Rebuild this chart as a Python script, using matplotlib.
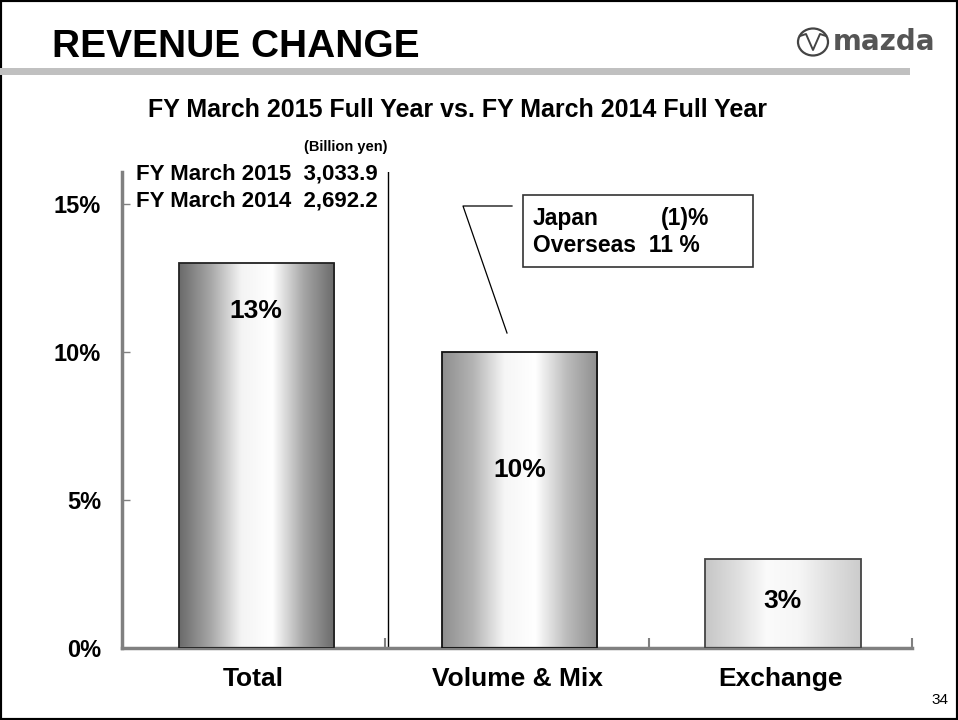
import matplotlib
matplotlib.use("Agg")
import matplotlib.pyplot as plt
import numpy as np
from matplotlib.colors import LinearSegmentedColormap
from matplotlib.patches import Rectangle, Ellipse
from matplotlib.lines import Line2D

plt.rcParams['font.family'] = ['Liberation Sans', 'DejaVu Sans']

# ---- data ----
categories = ["Total", "Volume & Mix", "Exchange"]
values = [13, 10, 3]
bar_labels = ["13%", "10%", "3%"]
yticks = [0, 5, 10, 15]
ytick_labels = ["0%", "5%", "10%", "15%"]
revenue_lines = ["FY March 2015  3,033.9", "FY March 2014  2,692.2"]
unit_text = "(Billion yen)"
callout_japan = ["Japan", "(1)%"]
callout_overseas = "Overseas  11 %"

W, H = 958, 720
fig = plt.figure(figsize=(W / 100, H / 100), dpi=100)


def fx(px):
    return px / W


def fy(py):
    return 1 - py / H


# page frame
fig.patches.append(Rectangle((0, 0), 1, 1, transform=fig.transFigure,
                             fill=False, edgecolor="black", linewidth=3))
# title underline
fig.patches.append(Rectangle((0, fy(75)), fx(910), 7 / H, transform=fig.transFigure,
                             facecolor="#c0c0c0", edgecolor="none"))
fig.text(fx(52), fy(47), "REVENUE CHANGE", fontsize=28, fontweight="bold",
         va="center", ha="left")
fig.text(fx(458), fy(110), "FY March 2015 Full Year vs. FY March 2014 Full Year",
         fontsize=18, fontweight="bold", ha="center", va="center")
fig.text(fx(940), fy(700), "34", fontsize=11, ha="center", va="center")

# mazda logo
fig.patches.append(Ellipse((fx(813), fy(42)), 30 / W, 27 / H, transform=fig.transFigure,
                           fill=False, edgecolor="#444444", linewidth=1.6))
fig.lines.append(Line2D([fx(800), fx(806), fx(813), fx(820), fx(826)],
                        [fy(36), fy(34), fy(50), fy(34), fy(36)],
                        transform=fig.transFigure, color="#444444", linewidth=1.4))
fig.text(fx(833), fy(42), "mazda", fontsize=20, fontweight="bold", color="#555555",
         ha="left", va="center", family="DejaVu Sans")

# ---- axes ----
ax = fig.add_axes([fx(122), fy(648), fx(912) - fx(122), (648 - 172) / H])
x = np.arange(len(categories))
bar_w = 0.59

gradients = [
    ["#6a6a6a", "#a6a6a6", "#f4f4f4", "#ffffff", "#a6a6a6", "#6a6a6a"],
    ["#8e8e8e", "#b4b4b4", "#f6f6f6", "#ffffff", "#bcbcbc", "#8e8e8e"],
    ["#c6c6c6", "#dedede", "#fbfbfb", "#f6f6f6", "#e0e0e0", "#cccccc"],
]
edgecolors = ["#222222", "#111111", "#444444"]

bars = ax.bar(x + 0.01, values, width=bar_w, facecolor="none", edgecolor=edgecolors,
              linewidth=1.3, zorder=3)
for b, cols in zip(bars, gradients):
    cmap = LinearSegmentedColormap.from_list("g", cols)
    grad = np.linspace(0, 1, 256).reshape(1, -1)
    x0 = b.get_x()
    im = ax.imshow(grad, cmap=cmap, extent=(x0, x0 + b.get_width(), 0, b.get_height()),
                   aspect="auto", zorder=2, interpolation="bicubic")
    im.set_clip_path(b)

label_y = [11.4, 6.0, 1.6]
for xi, lab, ly in zip(x + 0.01, bar_labels, label_y):
    ax.text(xi, ly, lab, ha="center", va="center", fontsize=19, fontweight="bold", zorder=4)

ax.set_xlim(-0.5, 2.5)
ax.set_ylim(0, 16.08)
for s in ["top", "right"]:
    ax.spines[s].set_visible(False)
for s in ["left", "bottom"]:
    ax.spines[s].set_color("#808080")
    ax.spines[s].set_linewidth(2.5)
ax.set_yticks(yticks)
ax.set_yticklabels(ytick_labels, fontsize=17, fontweight="bold")
ax.tick_params(axis="y", direction="in", length=6, width=1, color="#808080", pad=15)
ax.set_xticks(x)
ax.set_xticklabels(categories, fontsize=19, fontweight="bold")
ax.tick_params(axis="x", which="major", length=0, pad=14)
ax.set_xticks([0.5, 1.5, 2.5], minor=True)
ax.tick_params(axis="x", which="minor", direction="in", length=7, width=1.5, color="#808080")
ax.axvline(0.51, color="black", linewidth=1, zorder=1)
ax.set_facecolor("white")

# revenue text
fig.text(fx(388), fy(147), unit_text, fontsize=10.5, fontweight="bold", ha="right", va="center")
for i, t in enumerate(revenue_lines):
    fig.text(fx(136), fy(174 + 27 * i), t, fontsize=16, fontweight="bold", ha="left", va="center")

# callout
fig.lines.append(Line2D([fx(512), fx(463), fx(507)], [fy(206), fy(206), fy(333)],
                        transform=fig.transFigure, color="black", linewidth=0.9))
fig.patches.append(Rectangle((fx(523), fy(267)), (753 - 523) / W, (267 - 195) / H,
                             transform=fig.transFigure, fill=False, edgecolor="#333333",
                             linewidth=1.2))
fig.text(fx(533), fy(219), callout_japan[0], fontsize=16.5, fontweight="bold", ha="left", va="center")
fig.text(fx(709), fy(219), callout_japan[1], fontsize=16.5, fontweight="bold", ha="right", va="center")
fig.text(fx(533), fy(246), callout_overseas, fontsize=16.5, fontweight="bold", ha="left", va="center")

fig.savefig("out.png", dpi=100)
